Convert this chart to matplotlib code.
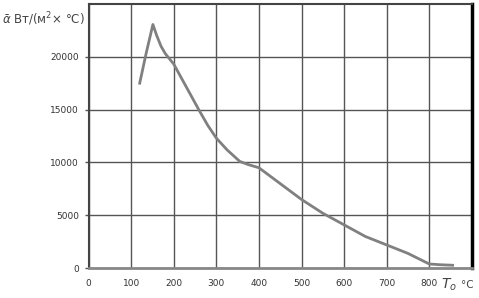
import matplotlib.pyplot as plt

# temperature, deg C
temp = [120, 135, 151, 160, 170, 180, 200, 230, 260, 280, 300, 325, 355, 375,
        400, 450, 500, 550, 600, 650, 700, 750, 780, 800, 825, 855]
# heat transfer coefficient
alpha = [17500, 20300, 23050, 22000, 21000, 20300, 19300, 17100, 14900, 13500,
         12300, 11200, 10100, 9800, 9500, 8000, 6500, 5200, 4100, 3000, 2200,
         1400, 800, 400, 330, 280]

xticks = [0, 100, 200, 300, 400, 500, 600, 700, 800]
yticks = [0, 5000, 10000, 15000, 20000]

fig = plt.figure(figsize=(4.79, 2.98), dpi=100)
ax = fig.add_axes([0.185, 0.1, 0.8, 0.887])

ax.plot(temp, alpha, color="#808080", lw=2)

ax.set_xlim(0, 900)
ax.set_ylim(0, 25000)
ax.set_xticks(xticks)
ax.set_yticks(yticks)
ax.tick_params(axis="x", length=0, pad=8, labelsize=6.5, labelcolor="#333333")
ax.tick_params(axis="y", length=3, width=1, color="#555555", pad=4,
               labelsize=6.5, labelcolor="#333333")
ax.grid(True, color="#555555", lw=1)

ax.spines["left"].set_color("#444444")
ax.spines["left"].set_linewidth(1.5)
ax.spines["top"].set_color("#444444")
ax.spines["top"].set_linewidth(1.5)
ax.spines["right"].set_color("black")
ax.spines["right"].set_linewidth(2.5)
ax.spines["bottom"].set_color("#888888")
ax.spines["bottom"].set_linewidth(2)

fig.text(0.005, 0.935, r"$\bar{\alpha}$ Вт/(м$^2$× °C)", fontsize=8.5,
         color="#444444", ha="left", va="center")
fig.text(0.955, 0.045, r"$T_o$", fontsize=10, color="#444444", ha="right",
         va="center")
fig.text(0.962, 0.045, "°C", fontsize=7.5, color="#444444", ha="left",
         va="center")

plt.savefig("out.png", dpi=100)
